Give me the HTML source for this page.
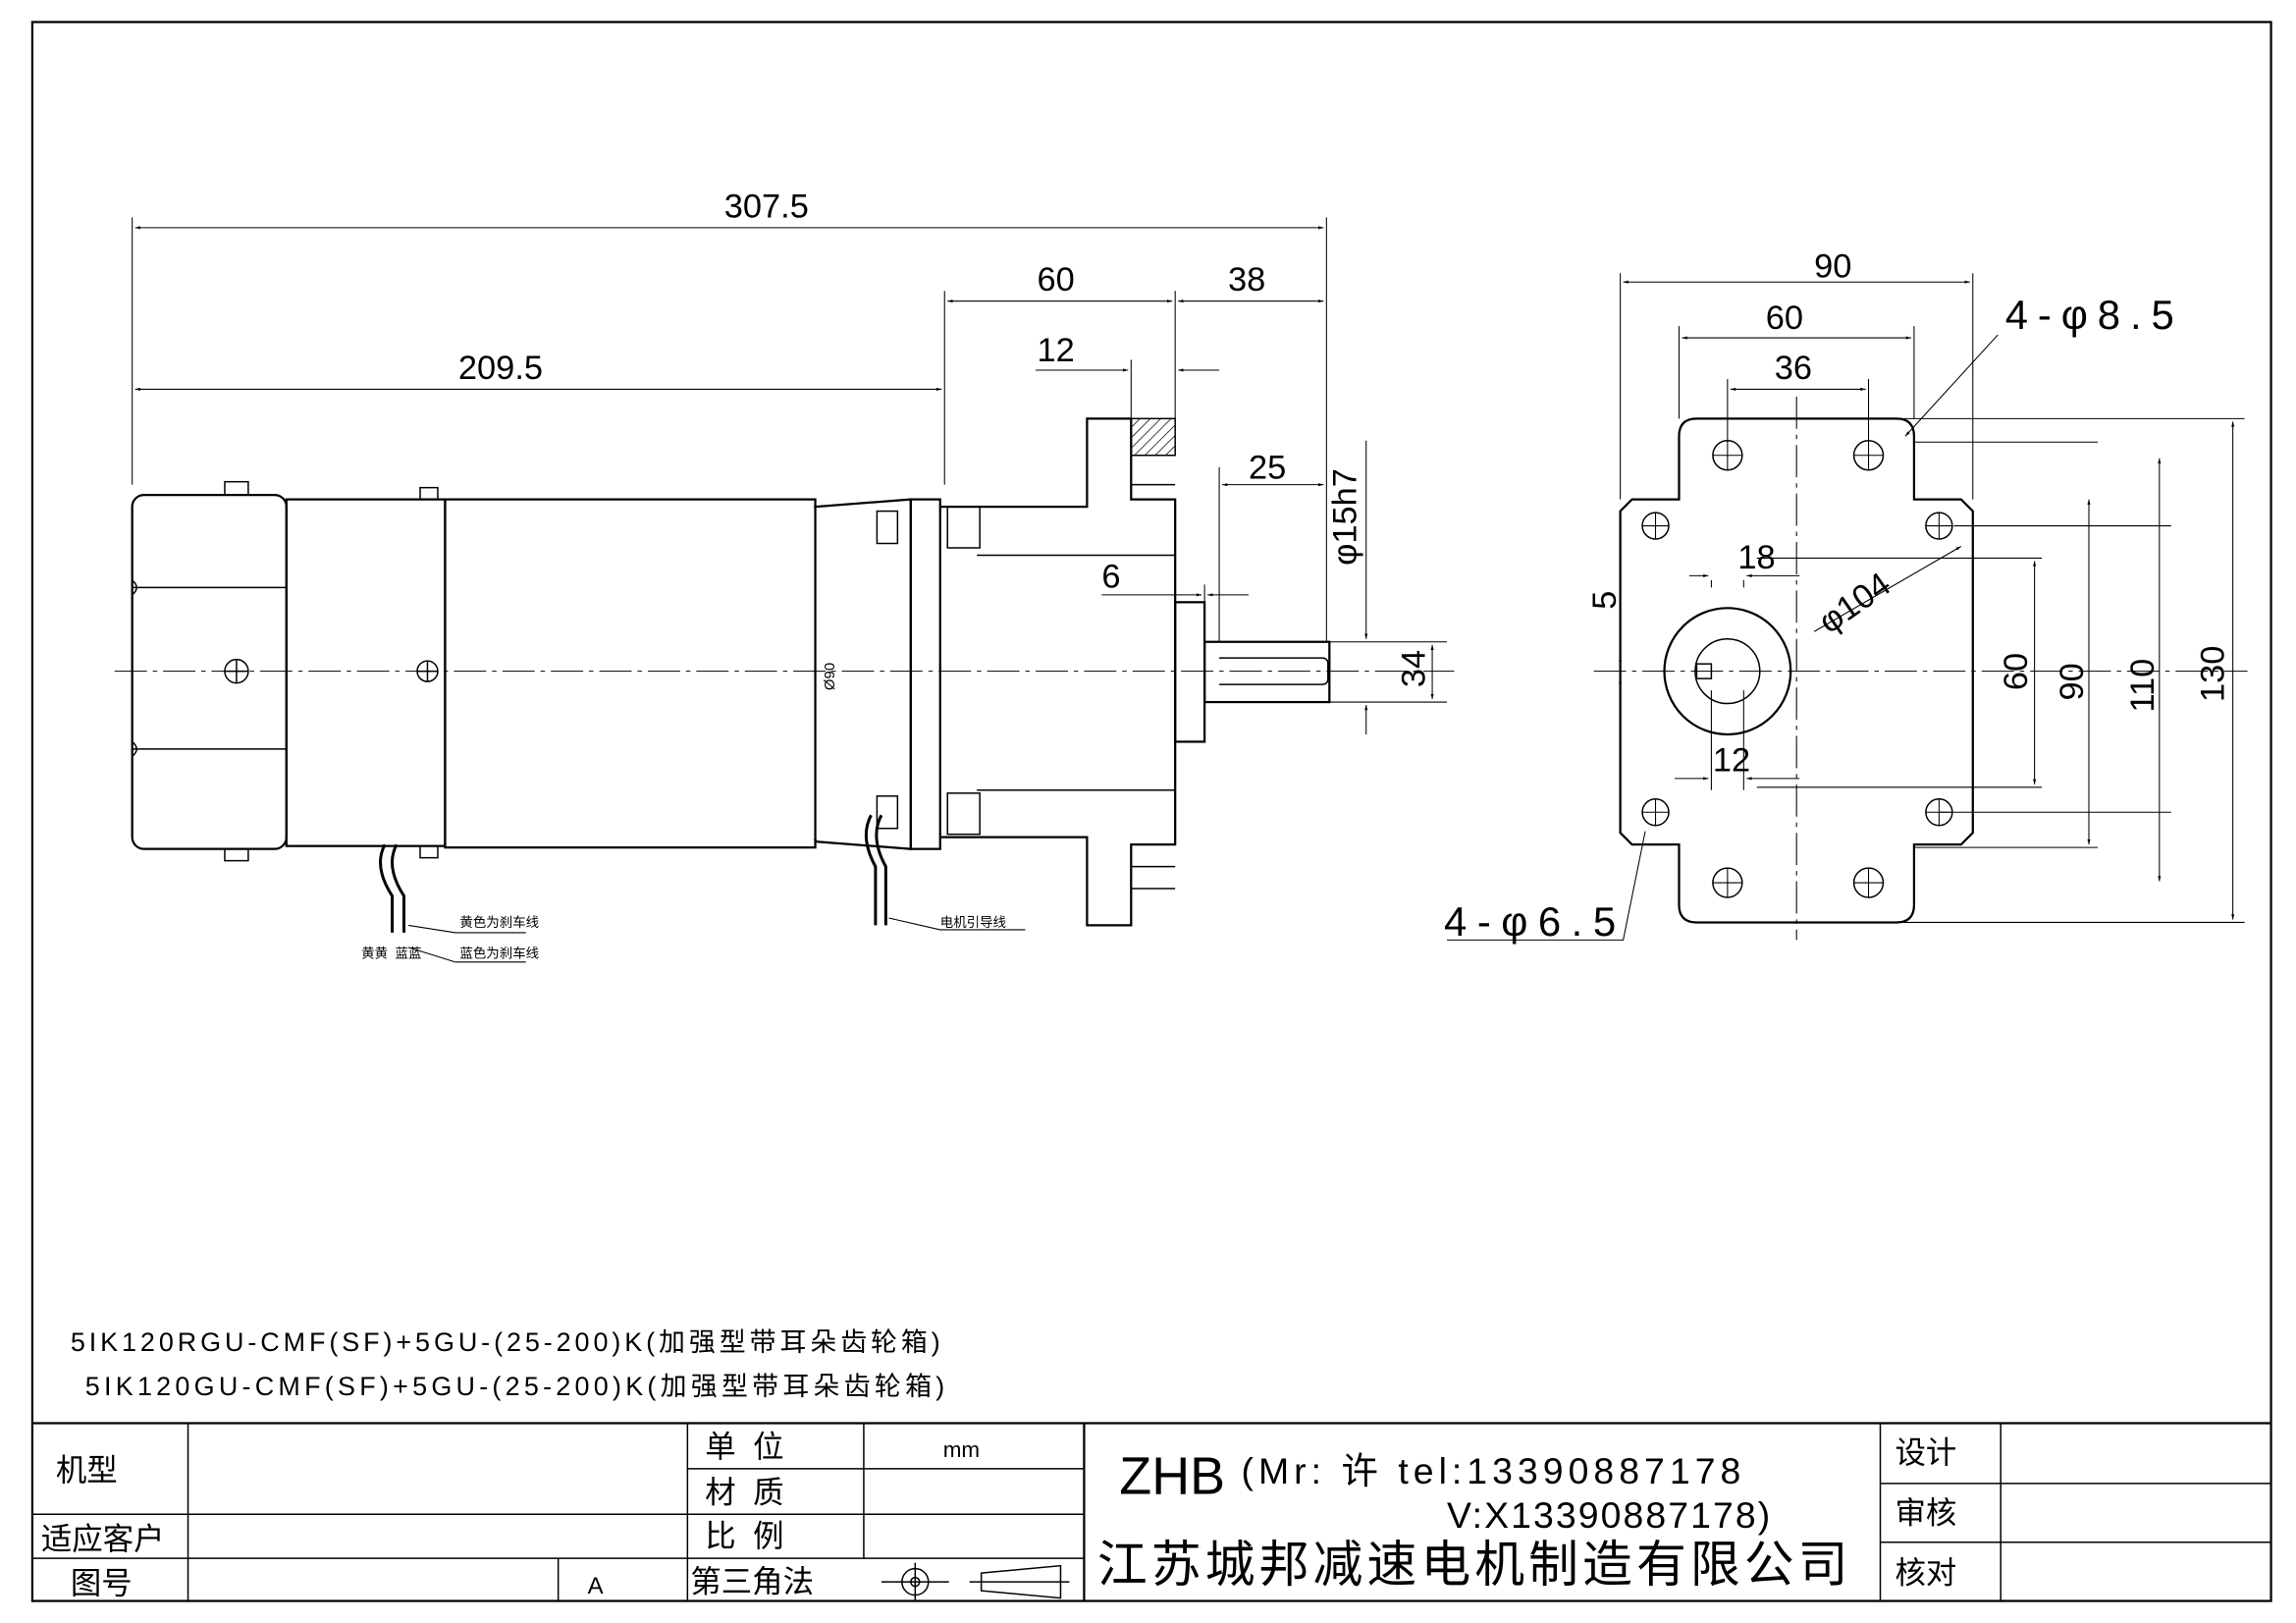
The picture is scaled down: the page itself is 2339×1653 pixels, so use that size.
<!DOCTYPE html>
<html><head><meta charset="utf-8"><style>
html,body{margin:0;padding:0;background:#fff}
svg{display:block}
text{font-family:"Liberation Sans","Noto Sans CJK SC",sans-serif;fill:#000}
.s{font-family:"Liberation Serif","Noto Serif CJK SC",serif}
</style></head><body>
<svg width="2339" height="1653" viewBox="0 0 1563 1105" preserveAspectRatio="none" xmlns="http://www.w3.org/2000/svg">
<defs>
<marker id="a" viewBox="0 0 10 10" refX="10" refY="5" markerWidth="8" markerHeight="5" orient="auto-start-reverse"><path d="M0,2 L10,5 L0,8z" fill="#000"/></marker>
<pattern id="h" width="5" height="5" patternUnits="userSpaceOnUse" patternTransform="rotate(45)"><line x1="0" y1="0" x2="0" y2="5" stroke="#000" stroke-width="1"/></pattern>
</defs>
<g fill="none" stroke="#000" stroke-width="1">
<rect x="22" y="15" width="1524" height="1075" stroke-width="1.5"/>
<line x1="22" y1="969" x2="1546" y2="969" stroke-width="1.5"/>
<line x1="22" y1="1031" x2="738" y2="1031"/>
<line x1="22" y1="1061" x2="738" y2="1061"/>
<line x1="468" y1="1000" x2="738" y2="1000"/>
<line x1="128" y1="969" x2="128" y2="1090"/>
<line x1="468" y1="969" x2="468" y2="1090"/>
<line x1="588" y1="969" x2="588" y2="1061"/>
<line x1="738" y1="969" x2="738" y2="1090" stroke-width="1.5"/>
<line x1="380" y1="1061" x2="380" y2="1090"/>
<line x1="1280" y1="969" x2="1280" y2="1090"/>
<line x1="1362" y1="969" x2="1362" y2="1090"/>
<line x1="1280" y1="1010" x2="1546" y2="1010"/>
<line x1="1280" y1="1050" x2="1546" y2="1050"/>
<circle cx="623" cy="1077" r="9"/><circle cx="623" cy="1077" r="3"/>
<line x1="600" y1="1077" x2="646" y2="1077"/><line x1="623" y1="1064" x2="623" y2="1090"/>
<path d="M668,1071 L722,1066 L722,1088 L668,1083z"/><line x1="660" y1="1077" x2="728" y2="1077"/>

<line x1="78" y1="457" x2="990" y2="457" stroke-dasharray="22,4,3,4" stroke-width="0.7"/>
<line x1="1085" y1="457" x2="1530" y2="457" stroke-dasharray="22,4,3,4" stroke-width="0.7"/>
<line x1="1223" y1="270" x2="1223" y2="640" stroke-dasharray="22,4,3,4" stroke-width="0.7"/>

<rect x="90" y="337" width="105" height="241" rx="8" stroke-width="1.5"/>
<path d="M90,400 L195,400 M90,510 L195,510" />
<path d="M90,395 q6,5 0,10 M90,505 q6,5 0,10"/>
<rect x="195" y="340" width="108" height="236" stroke-width="1.5"/>
<rect x="303" y="340" width="252" height="237" stroke-width="1.5"/>
<line x1="555" y1="340" x2="555" y2="577"/>
<path d="M555,345 L620,340 L620,578 L555,573" stroke-width="1.5"/>
<rect x="620" y="340" width="20" height="238" stroke-width="1.5"/>
<rect x="153" y="328" width="16" height="9"/><rect x="153" y="578" width="16" height="8"/>
<rect x="286" y="332" width="12" height="8"/><rect x="286" y="576" width="12" height="8"/>
<circle cx="161" cy="457" r="8"/><path d="M153,457h16M161,449v16"/>
<circle cx="291" cy="457" r="7"/><path d="M284,457h14M291,450v14"/>
<rect x="597" y="348" width="14" height="22"/><rect x="597" y="542" width="14" height="22"/>
<rect x="645" y="345" width="22" height="28"/><rect x="645" y="540" width="22" height="28"/>
<path d="M640,345 L740,345 L740,285 L770,285 L770,340 L800,340 L800,575 L770,575 L770,630 L740,630 L740,570 L640,570" stroke-width="1.5"/>
<line x1="665" y1="378" x2="800" y2="378"/><line x1="665" y1="538" x2="800" y2="538"/>
<rect x="770" y="285" width="30" height="25" fill="url(#h)"/>
<path d="M770,310 h30 M770,330 h30 M770,590 h30 M770,605 h30"/>
<rect x="800" y="410" width="20" height="95" stroke-width="1.5"/>
<rect x="820" y="437" width="85" height="41" stroke-width="1.5"/>
<path d="M830,448 h70 q4,0 4,4 v10 q0,4 -4,4 h-70"/>
<path d="M262,575 q-8,15 5,35 v25 M270,575 q-8,15 5,35 v25" stroke-width="2"/>
<path d="M593,555 q-8,15 3,35 v40 M600,555 q-8,15 3,35 v40" stroke-width="2"/>
<path d="M278,630 L310,635 L358,635 M278,645 L310,655 L358,655 M605,625 L640,633 L698,633" stroke-width="0.7"/>

<g stroke-width="0.7">
<path d="M90,330 V148 M903,437 V148 M643,330 V198 M800,285 V198 M770,285 V245 M820,410 V398 M830,437 V318 M903,437 V318 M905,437 H985 M905,478 H985 M555,340 V577"/>
<line x1="92" y1="155" x2="901" y2="155" marker-start="url(#a)" marker-end="url(#a)"/>
<line x1="92" y1="265" x2="641" y2="265" marker-start="url(#a)" marker-end="url(#a)"/>
<line x1="645" y1="205" x2="798" y2="205" marker-start="url(#a)" marker-end="url(#a)"/>
<line x1="802" y1="205" x2="901" y2="205" marker-start="url(#a)" marker-end="url(#a)"/>
<line x1="705" y1="252" x2="768" y2="252" marker-end="url(#a)"/>
<line x1="830" y1="252" x2="802" y2="252" marker-end="url(#a)"/>
<line x1="832" y1="330" x2="901" y2="330" marker-start="url(#a)" marker-end="url(#a)"/>
<line x1="750" y1="405" x2="818" y2="405" marker-end="url(#a)"/>
<line x1="850" y1="405" x2="822" y2="405" marker-end="url(#a)"/>
<line x1="930" y1="300" x2="930" y2="435" marker-end="url(#a)"/>
<line x1="930" y1="500" x2="930" y2="480" marker-end="url(#a)"/>
<line x1="975" y1="439" x2="975" y2="476" marker-start="url(#a)" marker-end="url(#a)"/>
<line x1="555" y1="342" x2="555" y2="575" marker-start="url(#a)" marker-end="url(#a)"/>
</g>

<path d="M1143,297 q0,-12 12,-12 h136 q12,0 12,12 V340 h32 l8,8 V567 l-8,8 h-32 V616 q0,12 -12,12 h-136 q-12,0 -12,-12 V575 h-32 l-8,-8 V348 l8,-8 h32z" stroke-width="1.5"/>
<g>
<circle cx="1176" cy="310" r="10"/><circle cx="1272" cy="310" r="10"/>
<circle cx="1176" cy="601" r="10"/><circle cx="1272" cy="601" r="10"/>
<circle cx="1127" cy="358" r="9"/><circle cx="1320" cy="358" r="9"/>
<circle cx="1127" cy="553" r="9"/><circle cx="1320" cy="553" r="9"/>
<circle cx="1176" cy="457" r="43" stroke-width="1.5"/><circle cx="1176" cy="457" r="22"/>
<rect x="1155" y="452" width="10" height="10"/>
</g>
<g stroke-width="0.7">
<path d="M1176,300v20M1166,310h20M1272,300v20M1262,310h20M1176,591v20M1166,601h20M1272,591v20M1262,601h20M1118,358h18M1127,349v18M1311,358h18M1320,349v18M1118,553h18M1127,544v18M1311,553h18M1320,544v18"/>
<path d="M1103,340 V186 M1343,340 V186 M1143,285 V222 M1303,285 V222 M1176,300 V258 M1272,300 V258 M1280,285 H1528 M1320,553 H1478 M1330,358 H1478 M1303,301 H1428 M1303,577 H1428 M1280,628 H1528 M1196,380 H1390 M1196,536 H1390 M1165,470 V538 M1187,470 V538 M1165,400 V395 M1187,400 V395"/>
<line x1="1105" y1="192" x2="1341" y2="192" marker-start="url(#a)" marker-end="url(#a)"/>
<line x1="1145" y1="230" x2="1301" y2="230" marker-start="url(#a)" marker-end="url(#a)"/>
<line x1="1178" y1="265" x2="1270" y2="265" marker-start="url(#a)" marker-end="url(#a)"/>
<line x1="1520" y1="287" x2="1520" y2="626" marker-start="url(#a)" marker-end="url(#a)"/>
<line x1="1470" y1="312" x2="1470" y2="600" marker-start="url(#a)" marker-end="url(#a)"/>
<line x1="1422" y1="340" x2="1422" y2="575" marker-start="url(#a)" marker-end="url(#a)"/>
<line x1="1385" y1="382" x2="1385" y2="534" marker-start="url(#a)" marker-end="url(#a)"/>
<line x1="1150" y1="392" x2="1163" y2="392" marker-end="url(#a)"/>
<line x1="1225" y1="392" x2="1189" y2="392" marker-end="url(#a)"/>
<line x1="1140" y1="530" x2="1163" y2="530" marker-end="url(#a)"/>
<line x1="1225" y1="530" x2="1189" y2="530" marker-end="url(#a)"/>
<line x1="1103" y1="420" x2="1103" y2="453" marker-end="url(#a)"/>
<line x1="1103" y1="480" x2="1103" y2="462" marker-end="url(#a)"/>
<line x1="1235" y1="430" x2="1335" y2="372" marker-end="url(#a)"/>
<line x1="1360" y1="228" x2="1297" y2="297" marker-end="url(#a)"/>
<path d="M985,640 L1105,640 L1120,566"/>
</g>
</g>

<g font-size="23">
<text x="493" y="148">307.5</text>
<text x="312" y="258">209.5</text>
<text x="706" y="198">60</text>
<text x="836" y="198">38</text>
<text x="706" y="246">12</text>
<text x="850" y="326">25</text>
<text x="750" y="400">6</text>
<text x="1235" y="189">90</text>
<text x="1202" y="224">60</text>
<text x="1208" y="258">36</text>
<text x="1183" y="387">18</text>
<text x="1166" y="525">12</text>
<text x="1365" y="224" font-size="28" textLength="115" lengthAdjust="spacing">4-φ8.5</text>
<text x="983" y="637" font-size="28" textLength="117" lengthAdjust="spacing">4-φ6.5</text>
</g>
<g font-size="23">
<text transform="translate(923,385) rotate(-90)">φ15h7</text>
<text transform="translate(970,468) rotate(-90)">34</text>
<text transform="translate(1100,415) rotate(-90)">5</text>
<text transform="translate(1380,470) rotate(-90)">60</text>
<text transform="translate(1418,477) rotate(-90)">90</text>
<text transform="translate(1466,485) rotate(-90)">110</text>
<text transform="translate(1514,478) rotate(-90)">130</text>
<text transform="translate(1245,432) rotate(-35)">φ104</text>
<text transform="translate(568,470) rotate(-90)" font-size="10">Ø90</text>
</g>
<g font-size="9">
<text x="313" y="631">黄色为刹车线</text>
<text x="313" y="652">蓝色为刹车线</text>
<text x="246" y="652">黄黄 &#160;蓝蓝</text>
<text x="640" y="631">电机引导线</text>
</g>
<g class="s" font-size="18">
<text x="48" y="920" textLength="592" lengthAdjust="spacing">5IK120RGU-CMF(SF)+5GU-(25-200)K(加强型带耳朵齿轮箱)</text>
<text x="58" y="950" textLength="585" lengthAdjust="spacing">5IK120GU-CMF(SF)+5GU-(25-200)K(加强型带耳朵齿轮箱)</text>
</g>
<g font-size="21">
<text x="38" y="1008">机型</text>
<text x="28" y="1055">适应客户</text>
<text x="48" y="1085">图号</text>
<text x="400" y="1085" font-size="16">A</text>
<text x="480" y="992">单 &#160;位</text>
<text x="480" y="1023">材 &#160;质</text>
<text x="480" y="1053">比 &#160;例</text>
<text x="470" y="1084">第三角法</text>
<text x="642" y="992" font-size="15">mm</text>
<text x="1290" y="996">设计</text>
<text x="1290" y="1037">审核</text>
<text x="1290" y="1078">核对</text>
<text x="762" y="1017" font-size="36" textLength="72" lengthAdjust="spacingAndGlyphs">ZHB</text>
<text x="845" y="1010" font-size="25" textLength="340" lengthAdjust="spacing">(Mr: 许 tel:13390887178</text>
<text x="985" y="1040" font-size="25" textLength="220" lengthAdjust="spacing">V:X13390887178)</text>
<text x="747" y="1077" font-size="34" textLength="511" lengthAdjust="spacing">江苏城邦减速电机制造有限公司</text>
</g>
</svg>
</body></html>
